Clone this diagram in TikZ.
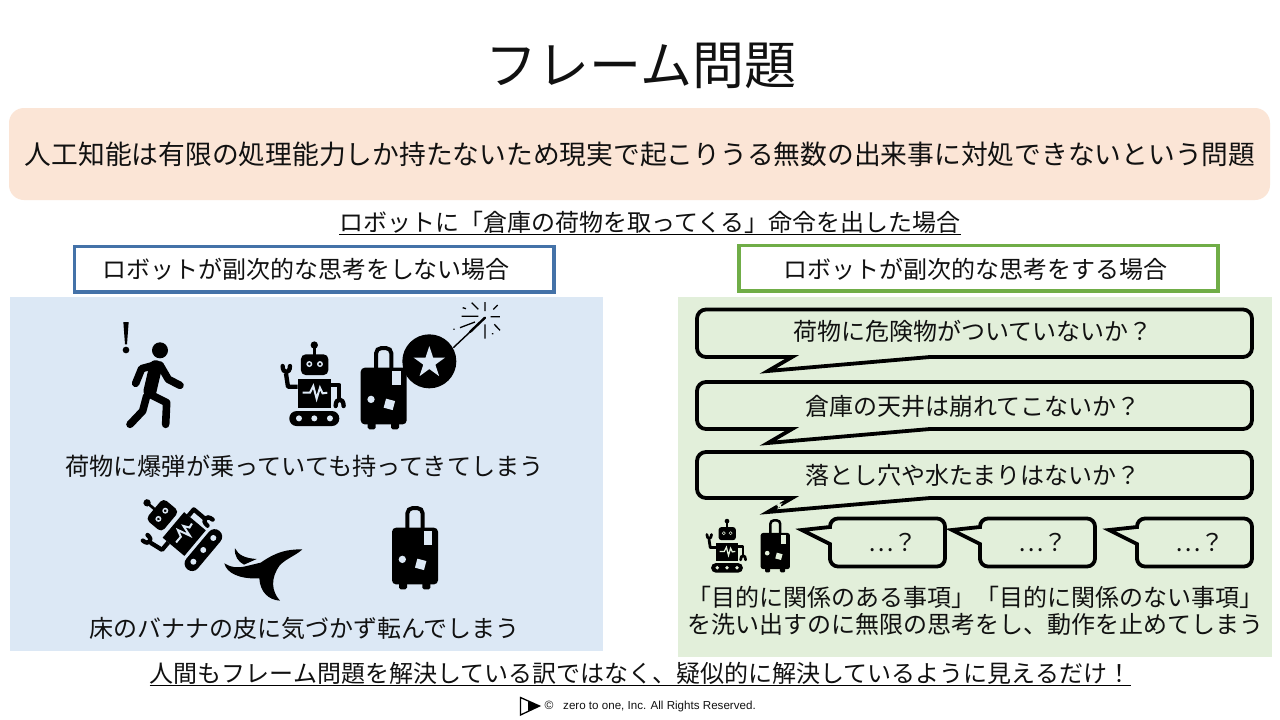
\documentclass[tikz,border=0pt]{standalone}
\usepackage{fontspec}
\setmainfont{Noto Sans CJK JP}
\newfontfamily\latinfont{Liberation Sans}
\definecolor{bannerfill}{HTML}{FBE5D6}
\definecolor{bluepanel}{HTML}{DCE8F5}
\definecolor{greenpanel}{HTML}{E2EFDA}
\definecolor{blueedge}{HTML}{4472A8}
\definecolor{greenedge}{HTML}{70AD47}
\definecolor{inktext}{HTML}{111111}
\tikzset{
  txt/.style={inner sep=0pt,text height={#1*.88pt},text depth={#1*.12pt},text=inktext,font=\fontsize{#1}{#1}\selectfont},
  txt/.default=24,
  headbox/.style={draw=#1,line width=3.2pt,fill=white},
  bubble/.style={draw=black,line width=3.8pt,line join=miter,miter limit=10},
  rule/.style={draw=black,line width=1.2pt},
}
\newcommand\fivestar[4]{\fill[#4,shift={(#1,#2)}]
  (-90:#3)--(-54:{#3*.382})--(-18:#3)--(18:{#3*.382})--(54:#3)--(90:{#3*.382})--(126:#3)--(162:{#3*.382})--(198:#3)--(234:{#3*.382})--cycle;}
% x, y, scale, rotation, cut-out colour
\newcommand\robot[5]{\begin{scope}[shift={(#1,#2)},rotate=#4,scale=#3,shift={(-643,-263)}]
  \pgfmathsetlengthmacro\lwa{#3*13pt}
  \pgfmathsetlengthmacro\lwb{#3*6pt}
  \pgfmathsetlengthmacro\lwc{#3*8pt}
  \fill (643,147) circle (11);
  \draw[line width=\lwc] (643,147)--(643,180);
  \fill[rounded corners={#3*14pt}] (603,175) rectangle (685,237);
  \fill[#5] (628,204) circle (9) (660,204) circle (9);
  \fill (628,204) circle (4.5) (660,204) circle (4.5);
  \fill (593,250) rectangle (693,335);
  \draw[#5,line width=\lwb,line join=miter] (608,290)--(630,290)--(640,270)--(650,308)--(660,275)--(668,292)--(682,290);
  \draw[line width=\lwa,line join=round] (593,272)--(564,272)--(558,232);
  \draw[line width=\lwa,line cap=round] (548,210) .. controls (548,234) and (570,234) .. (570,210);
  \draw[line width=\lwa,line join=round] (693,267)--(718,267)--(718,310);
  \draw[line width=\lwa,line cap=round] (707,330) .. controls (707,304) and (731,304) .. (731,330);
  \fill[rounded corners={#3*22pt}] (568,345) rectangle (718,390);
  \fill[#5] (597,367) circle (9) (643,367) circle (9) (690,367) circle (9);
\end{scope}}
% x, y, scale, cut-out colour
\newcommand\suitcase[4]{\begin{scope}[shift={(#1,#2)},scale=#3,shift={(-851,-275)}]
  \pgfmathsetlengthmacro\lwa{#3*12pt}
  \draw[line width=\lwa,rounded corners={#3*16pt}] (828,220)--(828,156)--(874,156)--(874,220);
  \fill[rounded corners={#3*12pt}] (782,215) rectangle (920,385);
  \fill[rounded corners={#3*5pt}] (803,375) rectangle (827,400) (873,375) rectangle (897,400);
  \fill[#4] (877,226) rectangle (903,268);
  \fivestar{833}{263}{18}{#4,rotate=12}
  \fill[#4] (813,310) circle (11);
  \fill[#4,shift={(868,325)},rotate=-15] (-14,-14) rectangle (14,14);
\end{scope}}
\begin{document}
\begin{tikzpicture}[x=1pt,y=-1pt]
\useasboundingbox (0,0) rectangle (1280,720);
\fill[white] (0,0) rectangle (1280,720);
\node[txt=52] (title) at (641,65) {フレーム問題};
\fill[bannerfill,rounded corners=15pt] (9,108) rectangle (1270,200);
\node[txt=26.75] (defn) at (640,154) {人工知能は有限の処理能力しか持たないため現実で起こりうる無数の出来事に対処できないという問題};
\node[txt] (sub) at (650,222) {ロボットに「倉庫の荷物を取ってくる」命令を出した場合};
\draw[rule] (sub.south west)--(sub.south east);
% panels
\fill[bluepanel] (10,297) rectangle (603,651);
\fill[greenpanel] (678,297) rectangle (1272,657);
\draw[headbox=blueedge] (74.5,246.5) rectangle (554,292);
\node[txt] (lefthead) at (306,269) {ロボットが副次的な思考をしない場合};
\draw[headbox=greenedge] (739,245.5) rectangle (1218,291);
\node[txt] (righthead) at (975,269) {ロボットが副次的な思考をする場合};
% walker and exclamation
\begin{scope}[shift={(100,296)},scale=1/3]
  \fill (70,78)--(86,78)--(81,145)--(75,145)--cycle;
  \fill (78,162) circle (10);
  \fill (180,163) circle (24);
  \draw[line width=7.6pt,line cap=round,line join=round] (165,207)--(125,218)--(107,262);
  \draw[line width=7.6pt,line cap=round,line join=round] (180,207)--(205,250)--(240,268);
  \draw[line width=13pt,line cap=round] (167,212)--(150,285);
  \draw[line width=7.6pt,line cap=round,line join=round] (140,300)--(128,345)--(90,385);
  \draw[line width=7.6pt,line cap=round,line join=round] (150,295)--(200,320)--(197,385);
\end{scope}
\robot{314.3}{383.7}{.3333}{0}{bluepanel}
\suitcase{383.7}{387.7}{.3333}{bluepanel}
% bomb
\begin{scope}[shift={(100,296)},scale=1/3]
  \fill (988,196) circle (81);
  \fivestar{988}{200}{50}{bluepanel}
  \draw[line width=1.4pt] (1060,155)--(1110,108);
  \draw[line width=2.4pt,line cap=round] (1110,108)--(1155,65);
  \draw[line width=1.3pt]
    (1155,18)--(1155,45) (1155,85)--(1155,128) (1085,61)--(1135,61) (1172,62)--(1200,62)
    (1180,40)--(1193,27) (1183,85)--(1200,103) (1115,20)--(1135,40) (1080,95)--(1125,78)
    (1088,35)--(1098,38) (1060,100)--(1064,100) (1176,113)--(1180,113);
\end{scope}
\node[txt=24.2] (leftcap1) at (304.5,466) {荷物に爆弾が乗っていても持ってきてしまう};
% fallen robot, peel, case
\robot{176.7}{527.7}{.3333}{50}{bluepanel}
\begin{scope}[shift={(130,490)},scale=1/3]
  \fill (517,178) .. controls (470,178) and (440,185) .. (392,218)
    -- (350,228)
    .. controls (325,235) and (300,232) .. (283,220)
    .. controls (290,250) and (330,268) .. (388,265)
    .. controls (390,305) and (415,330) .. (450,332)
    .. controls (425,305) and (420,265) .. (450,225)
    .. controls (470,205) and (500,195) .. (517,178) -- cycle;
  \fill (380,207) .. controls (345,205) and (325,195) .. (315,175)
    .. controls (312,198) and (325,215) .. (342,224) -- cycle;
\end{scope}
\suitcase{415}{547.7}{.3333}{bluepanel}
\node[txt] (leftcap2) at (304.5,628) {床のバナナの皮に気づかず転んでしまう};
% speech bubbles
\draw[bubble] (792,357) [rounded corners=9pt] --(697,357)--(697,309.5)--(1252,309.5)--(1252,357)--(1235,357) [sharp corners] --(930,357)--(768,371)--cycle;
\node[txt] (q1) at (973,331) {荷物に危険物がついていないか？};
\draw[bubble] (792,429) [rounded corners=9pt] --(697,429)--(697,382)--(1252,382)--(1252,429)--(1235,429) [sharp corners] --(930,429)--(768,443)--cycle;
\node[txt] (q2) at (973,406) {倉庫の天井は崩れてこないか？};
\draw[bubble] (792,498) [rounded corners=9pt] --(697,498)--(697,452)--(1252,452)--(1252,498)--(1235,498) [sharp corners] --(930,498)--(768,512)--cycle;
\node[txt] (q3) at (973,475) {落とし穴や水たまりはないか？};
\robot{727}{545.7}{.212}{0}{greenpanel}
\suitcase{775.3}{545.7}{.2126}{greenpanel}
\draw[bubble] (830,527) [rounded corners=8pt] --(830,518.5)--(945,518.5)--(945,566.5)--(830,566.5)--(830,552) [sharp corners] --(830,544)--(802,530)--cycle;
\draw[bubble] (980,527) [rounded corners=8pt] --(980,518.5)--(1095,518.5)--(1095,566.5)--(980,566.5)--(980,552) [sharp corners] --(980,544)--(952,530)--cycle;
\draw[bubble] (1137,527) [rounded corners=8pt] --(1137,518.5)--(1252,518.5)--(1252,566.5)--(1137,566.5)--(1137,552) [sharp corners] --(1137,544)--(1109,530)--cycle;
\node[txt] (e1) at (893,542) {…？};
\node[txt] (e2) at (1043,542) {…？};
\node[txt] (e3) at (1200,542) {…？};
\node[txt] (rcap1) at (975,597) {「目的に関係のある事項」「目的に関係のない事項」};
\node[txt] (rcap2) at (975,624) {を洗い出すのに無限の思考をし、動作を止めてしまう};
% bottom line
\node[txt] (concl) at (640.5,673) {人間もフレーム問題を解決している訳ではなく、疑似的に解決しているように見えるだけ！};
\draw[rule] (concl.south west)--(concl.south east);
% footer
\draw[line width=1.3pt,line join=miter] (520.5,697.5)--(520.5,715)--(539.5,706)--cycle;
\fill (528,701)--(540,706)--(528,711)--cycle;
\node[inner sep=0pt,font=\latinfont\fontsize{12}{12}\selectfont,text=inktext] (copy) at (549,705.5) {©};
\node[inner sep=0pt,anchor=west,font=\latinfont\fontsize{11.6}{11.6}\selectfont,text=inktext] (foot) at (563,706) {zero to one, Inc. All Rights Reserved.};
\end{tikzpicture}
\end{document}
